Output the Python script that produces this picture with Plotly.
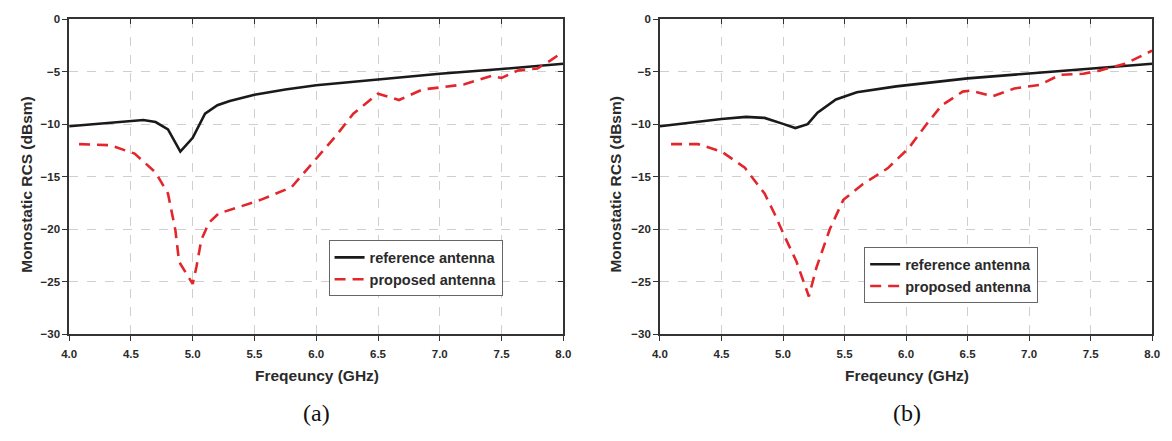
import plotly.graph_objects as go

# (a) data
fa_ref = [4.0, 4.3, 4.5, 4.6, 4.7, 4.8, 4.9, 5.0, 5.1, 5.2, 5.3, 5.5, 5.75, 6.0, 6.5, 7.0, 7.5, 8.0]
va_ref = [-10.2, -9.9, -9.7, -9.6, -9.8, -10.5, -12.6, -11.3, -9.0, -8.2, -7.8, -7.2, -6.7, -6.3, -5.75, -5.2, -4.75, -4.25]
fa_pro = [4.08, 4.33, 4.53, 4.7, 4.8, 4.86, 4.89, 5.0, 5.03, 5.07, 5.13, 5.21, 5.37, 5.55, 5.8, 6.0, 6.16, 6.3, 6.5, 6.67, 6.86, 7.04, 7.2, 7.42, 7.5, 7.63, 7.79, 7.9, 8.0]
va_pro = [-11.9, -12.0, -12.8, -14.6, -16.6, -20.1, -23.1, -25.2, -23.6, -21.0, -19.4, -18.5, -17.9, -17.2, -16.0, -13.3, -11.1, -9.0, -7.1, -7.7, -6.7, -6.45, -6.2, -5.4, -5.6, -4.9, -4.7, -3.9, -3.1]

# (b) data
fb_ref = [4.0, 4.5, 4.7, 4.85, 5.0, 5.1, 5.2, 5.28, 5.43, 5.6, 5.92, 6.5, 7.0, 7.5, 8.0]
vb_ref = [-10.2, -9.5, -9.3, -9.4, -9.97, -10.37, -10.0, -8.9, -7.65, -6.95, -6.4, -5.64, -5.17, -4.7, -4.24]
fb_pro = [4.09, 4.31, 4.5, 4.69, 4.85, 4.93, 5.01, 5.11, 5.21, 5.27, 5.38, 5.49, 5.65, 5.85, 6.02, 6.16, 6.29, 6.46, 6.53, 6.70, 6.88, 7.09, 7.25, 7.44, 7.57, 7.78, 8.0]
vb_pro = [-11.9, -11.9, -12.6, -14.15, -16.6, -18.5, -20.6, -23.1, -26.4, -23.7, -20.0, -17.2, -15.7, -14.2, -12.3, -10.1, -8.2, -6.9, -6.8, -7.35, -6.6, -6.25, -5.3, -5.2, -4.9, -4.25, -3.0]

x_ticks = [4.0, 4.5, 5.0, 5.5, 6.0, 6.5, 7.0, 7.5, 8.0]
x_ticktext = ["4.0", "4.5", "5.0", "5.5", "6.0", "6.5", "7.0", "7.5", "8.0"]
y_ticks = [0, -5, -10, -15, -20, -25, -30]

names = ["reference antenna", "proposed antenna"]
x_title = "Freqeuncy (GHz)"
y_title = "Monostatic RCS (dBsm)"
panel_labels = ["(a)", "(b)"]

FONT = "Arial, 'Liberation Sans', sans-serif"
BLACK = "#1a1a1a"
RED = "#e3262c"
TXT = "#2a2a2a"

fig = go.Figure()

panels = [
    (fa_ref, va_ref, fa_pro, va_pro, "x", "y", "legend"),
    (fb_ref, vb_ref, fb_pro, vb_pro, "x2", "y2", "legend2"),
]
for i, (fr, vr, fp, vp, xa, ya, lg) in enumerate(panels):
    fig.add_trace(go.Scatter(x=fr, y=vr, mode="lines", name=names[0],
                             line=dict(color=BLACK, width=2.6), xaxis=xa, yaxis=ya, legend=lg))
    fig.add_trace(go.Scatter(x=fp, y=vp, mode="lines", name=names[1],
                             line=dict(color=RED, width=2.6, dash="11px,7px"), xaxis=xa, yaxis=ya, legend=lg))

# invisible traces for inward mirror ticks
fig.add_trace(go.Scatter(x=[4, 8], y=[0, -30], mode="markers", marker=dict(opacity=0), showlegend=False,
                         hoverinfo="skip", xaxis="x3", yaxis="y3"))
fig.add_trace(go.Scatter(x=[4, 8], y=[0, -30], mode="markers", marker=dict(opacity=0), showlegend=False,
                         hoverinfo="skip", xaxis="x4", yaxis="y4"))

dom_a = [62 / 1172, 563 / 1172]
dom_b = [661 / 1172, 1160 / 1172]
dom_y = [1 - 337.5 / 441, 1 - 13.5 / 441]

axis_common = dict(showline=True, linecolor="#333333", linewidth=1.6, mirror=True,
                   ticks="outside", ticklen=5, tickwidth=1.4, tickcolor="#333333",
                   showgrid=True, gridcolor="#cfcfcf", griddash="dash", gridwidth=1,
                   zeroline=False,
                   tickfont=dict(family=FONT, size=11.5, color=TXT, weight="bold"))

xa = dict(axis_common, range=[4, 8], tickvals=x_ticks, ticktext=x_ticktext, ticklabelstandoff=3)
ya = dict(axis_common, range=[-30, 0], tickvals=y_ticks)

inner = dict(showline=False, ticks="inside", ticklen=5, tickwidth=1.4, tickcolor="#333333",
             showticklabels=False, showgrid=False, zeroline=False)

leg_common = dict(xanchor="left", yanchor="top", bgcolor="white", bordercolor="#666666", borderwidth=1,
                  font=dict(family=FONT, size=14.5, color=TXT, weight="bold"),
                  tracegroupgap=0, itemwidth=30)

fig.update_layout(
    width=1172, height=441,
    margin=dict(l=0, r=0, t=0, b=0),
    paper_bgcolor="white", plot_bgcolor="white",
    xaxis=dict(xa, domain=dom_a, anchor="y"),
    yaxis=dict(ya, domain=dom_y, anchor="x"),
    xaxis2=dict(xa, domain=dom_b, anchor="y2"),
    yaxis2=dict(ya, domain=dom_y, anchor="x2"),
    xaxis3=dict(inner, range=[4, 8], tickvals=x_ticks, overlaying="x", side="top", anchor="y3"),
    yaxis3=dict(inner, range=[-30, 0], tickvals=y_ticks, overlaying="y", side="right", anchor="x3"),
    xaxis4=dict(inner, range=[4, 8], tickvals=x_ticks, overlaying="x2", side="top", anchor="y4"),
    yaxis4=dict(inner, range=[-30, 0], tickvals=y_ticks, overlaying="y2", side="right", anchor="x4"),
    legend=dict(leg_common, x=325 / 1172, y=1 - 241 / 441),
    legend2=dict(leg_common, x=868 / 1172, y=1 - 248 / 441),
    showlegend=True,
)

annots = []
for cx, px in [(313, 18), (911, 615)]:
    annots.append(dict(text=x_title, x=cx / 1172, y=1 - 380 / 441, xref="paper", yref="paper",
                       showarrow=False, xanchor="center", yanchor="middle",
                       font=dict(family=FONT, size=15.5, color=TXT, weight="bold")))
    annots.append(dict(text=y_title, x=px / 1172, y=1 - 183 / 441, xref="paper", yref="paper",
                       showarrow=False, xanchor="center", yanchor="middle", textangle=-90,
                       font=dict(family=FONT, size=15.5, color=TXT, weight="bold")))
for lab, cx in zip(panel_labels, [313, 911]):
    annots.append(dict(text=lab, x=cx / 1172, y=1 - 418 / 441, xref="paper", yref="paper",
                       showarrow=False, xanchor="center", yanchor="middle",
                       font=dict(family="'Liberation Serif', 'Times New Roman', serif", size=24, color="#111111")))
fig.update_layout(annotations=annots)

fig.write_html("out.html")
